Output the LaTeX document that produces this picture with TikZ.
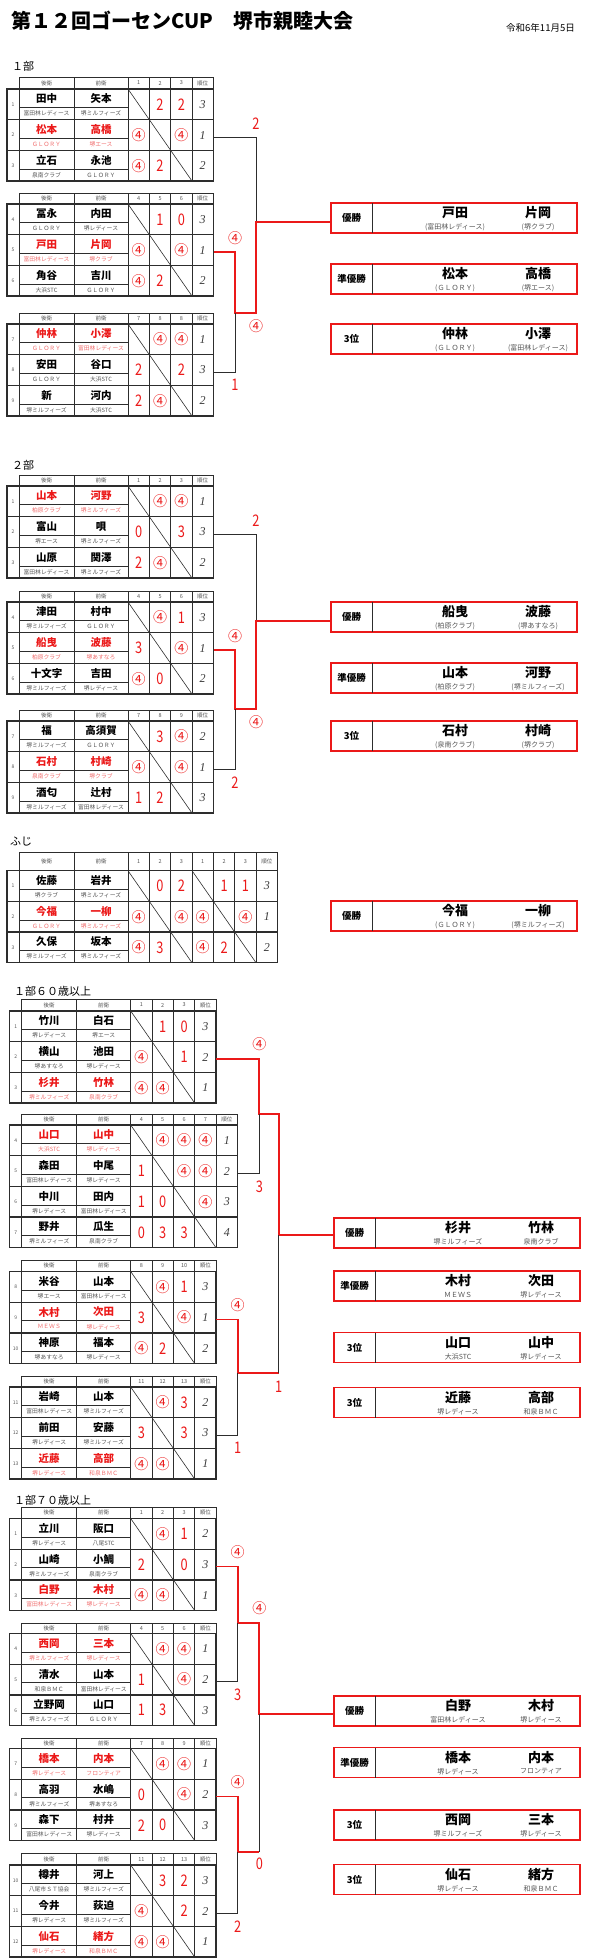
\documentclass[tikz,border=0pt]{standalone}
\usepackage{fontspec}
\setmainfont{Noto Sans CJK JP}
\newfontfamily\jpfont{Noto Sans CJK JP}
\newfontfamily\scorefont[FakeStretch=0.8]{Noto Sans CJK JP}
\newfontfamily\rankfont{Liberation Serif}
\definecolor{winred}{RGB}{235,25,25}
\definecolor{teamred}{RGB}{240,110,110}
\definecolor{teamgray}{RGB}{85,85,85}
\definecolor{rulegray}{RGB}{45,45,45}
\definecolor{rankgray}{RGB}{60,60,60}

% circled four (won game)
\newcommand{\won}{{\jpfont\fontsize{14}{14}\selectfont ④}}

\def\rowht{30.7}
\def\tabx{0}
\def\taby{0}
\def\ncols{3}

% header row: x0, ytop, column labels, height
\newcommand{\tablehead}[4]{%
  \xdef\tabx{#1}%
  \pgfmathsetmacro\yb{#2+#4}%
  \pgfmathsetmacro\yc{#2+#4/2}%
  \draw[colrule] (#1,#2) rectangle (#1+55,\yb) (#1+55,#2) rectangle (#1+109,\yb);
  \node[hdr] at (#1+27.5,\yc) {後衛};
  \node[hdr] at (#1+82,\yc) {前衛};
  \foreach \lab [count=\cc] in {#3} {
    \draw[colrule] (#1+109+21.35*\cc-21.35,#2) rectangle (#1+109+21.35*\cc,\yb);
    \node[hdr] at (#1+109+21.35*\cc-10.675,\yc) {\lab};
    \xdef\ncols{\cc}}
  \draw[colrule] (#1+109+21.35*\ncols,#2) rectangle (#1+130.35+21.35*\ncols,\yb);
  \node[hdr] at (#1+119.675+21.35*\ncols,\yc) {順位};
  \xdef\taby{\yb}%
}

% one pair: name, no., back, front, team1, team2, style suffix, scores, rank
\newcommand{\playerrow}[9]{%
  \pgfmathsetmacro\yb{\taby+\rowht}%
  \pgfmathsetmacro\ym{\taby+18.5}%
  \pgfmathsetmacro\yc{\taby+\rowht/2}%
  \pgfmathsetmacro\xs{\tabx+109}%
  \pgfmathsetmacro\xe{\xs+21.35*(\ncols+1)}%
  \draw[colrule] (\tabx,\taby) -- (\tabx,\yb) (\tabx+55,\taby) -- (\tabx+55,\yb) (\tabx,\ym) -- (\xs,\ym);
  \foreach \ii in {0,...,\ncols} {\draw[colrule] (\xs+21.35*\ii,\taby) -- (\xs+21.35*\ii,\yb);}
  \draw[rowrule] (\tabx-12,\taby) rectangle (\xe,\yb);
  \node[rnum] at (\tabx-6,\yc) {#2};
  \node[pname#7] at (\tabx+27.5,\taby+9.8) {#3};
  \node[pname#7] at (\tabx+82,\taby+9.8) {#4};
  \node[team#7] at (\tabx+27.5,\taby+24.6) {#5};
  \node[team#7] at (\tabx+82,\taby+24.6) {#6};
  \foreach \s [count=\cc] in {#8} {\node[score] at (\xs+21.35*\cc-10.675,\yc) {\s};}
  \node[rank] (#1) at (\xe-10.675,\yc) {#9};
  \xdef\taby{\yb}%
}

% diagonal through the own-match cells: first column, rows
\newcommand{\tablediag}[2]{%
  \draw[colrule] (\tabx+109+21.35*#1-21.35,\taby-\rowht*#2) -- (\tabx+109+21.35*#1-21.35+21.35*#2,\taby);
}

% result box: name, x0, ytop, label, name1, name2, team1, team2
\newcommand{\resultbox}[8]{%
  \node[resbox] (#1) at (#2+123,#3+15) {};
  \draw[colrule] (#2+41,#3) -- (#2+41,#3+30);
  \node[reslab] at (#2+20.5,#3+15) {#4};
  \node[resname] at (#2+124,#3+10) {#5};
  \node[resname] at (#2+207,#3+10) {#6};
  \node[resteam] at (#2+124,#3+24) {#7};
  \node[resteam] at (#2+207,#3+24) {#8};
}

\begin{document}
\begin{tikzpicture}[
    x=1pt, y=-1pt,
    hdr/.style={font=\fontsize{5.5}{6}\selectfont, text=teamgray, inner sep=0pt},
    rnum/.style={font=\fontsize{5}{5}\selectfont, text=teamgray, inner sep=0pt},
    pname/.style={font=\bfseries\fontsize{10.5}{11}\selectfont, inner sep=0pt},
    pnamewin/.style={pname, text=winred},
    team/.style={font=\fontsize{5.8}{6}\selectfont, text=teamgray, inner sep=0pt},
    teamwin/.style={team, text=teamred},
    score/.style={font=\scorefont\fontsize{16}{16}\selectfont, text=winred, inner sep=0pt},
    bscore/.style={score},
    rank/.style={font=\rankfont\itshape\fontsize{12}{12}\selectfont, text=rankgray,
      inner sep=0pt, minimum width=21.35pt, minimum height=30pt},
    rowrule/.style={draw=rulegray, line width=1.3pt},
    colrule/.style={draw=rulegray, line width=0.6pt},
    loseline/.style={draw=rulegray, line width=1pt},
    winline/.style={draw=winred, line width=1.8pt},
    resbox/.style={draw=winred, line width=1.8pt, minimum width=246pt,
      minimum height=30pt, inner sep=0pt},
    reslab/.style={font=\bfseries\fontsize{9.5}{10}\selectfont, inner sep=0pt},
    resname/.style={font=\bfseries\fontsize{13}{13}\selectfont, inner sep=0pt},
    resteam/.style={font=\fontsize{7}{7}\selectfont, text=teamgray, inner sep=0pt},
    section/.style={font=\fontsize{11}{11}\selectfont, anchor=west, inner sep=0pt}
  ]
  \useasboundingbox (0,0) rectangle (590,1960);

  \node[font=\bfseries\fontsize{20}{20}\selectfont, anchor=west, inner sep=0pt] (title) at (11,21) {第１２回ゴーセンCUP　堺市親睦大会};
  \node[font=\fontsize{9.5}{10}\selectfont, anchor=east, inner sep=0pt] (date) at (575,28) {令和6年11月5日};

  % 1部
  \node[section] (first) at (12,66) {１部};
  \tablehead{19}{77}{1,2,3}{12}
  \playerrow{first1}{1}{田中}{矢本}{富田林レディース}{堺ミルフィーズ}{}{{},2,2}{3}
  \playerrow{first2}{2}{松本}{高橋}{ＧＬＯＲＹ}{堺エース}{win}{\won,{},\won}{1}
  \playerrow{first3}{3}{立石}{永池}{泉南クラブ}{ＧＬＯＲＹ}{}{\won,2,{}}{2}
  \tablediag{1}{3}
  \tablehead{19}{193}{4,5,6}{11}
  \playerrow{first4}{4}{冨永}{内田}{ＧＬＯＲＹ}{堺レディース}{}{{},1,0}{3}
  \playerrow{first5}{5}{戸田}{片岡}{富田林レディース}{堺クラブ}{win}{\won,{},\won}{1}
  \playerrow{first6}{6}{角谷}{吉川}{大浜STC}{ＧＬＯＲＹ}{}{\won,2,{}}{2}
  \tablediag{1}{3}
  \tablehead{19}{313}{7,8,8}{11}
  \playerrow{first7}{7}{仲林}{小澤}{ＧＬＯＲＹ}{富田林レディース}{win}{{},\won,\won}{1}
  \playerrow{first8}{8}{安田}{谷口}{ＧＬＯＲＹ}{大浜STC}{}{2,{},2}{3}
  \playerrow{first9}{9}{新}{河内}{堺ミルフィーズ}{大浜STC}{}{2,\won,{}}{2}
  \tablediag{1}{3}

  \resultbox{firstwin}{331}{203}{優勝}{戸田}{片岡}{(富田林レディース)}{(堺クラブ)}
  \resultbox{firstrun}{331}{264}{準優勝}{松本}{高橋}{(ＧＬＯＲＹ)}{(堺エース)}
  \resultbox{firstthird}{331}{324}{3位}{仲林}{小澤}{(ＧＬＯＲＹ)}{(富田林レディース)}

  \coordinate (firstsemi) at (235,312.7);
  \coordinate (firstfin) at (256,221.7);
  \draw[loseline] ([yshift=-2pt]first2.east) -| node[bscore,above=7pt]{2} (firstfin);
  \draw[winline] ([yshift=-2pt]first5.east) -| node[bscore,above=6pt]{\won} (firstsemi)
    -| node[bscore,below=6pt]{\won} (firstfin) -- (firstfin -| firstwin.west);
  \draw[loseline] ([yshift=-2pt]first8.east) -| node[bscore,below=7pt]{1} (firstsemi);

  % 2部
  \node[section] (second) at (12,465) {２部};
  \tablehead{19}{475}{1,2,3}{11}
  \playerrow{second1}{1}{山本}{河野}{柏原クラブ}{堺ミルフィーズ}{win}{{},\won,\won}{1}
  \playerrow{second2}{2}{富山}{唄}{堺エース}{堺ミルフィーズ}{}{0,{},3}{3}
  \playerrow{second3}{3}{山原}{関澤}{富田林レディース}{堺ミルフィーズ}{}{2,\won,{}}{2}
  \tablediag{1}{3}
  \tablehead{19}{591}{4,5,6}{11}
  \playerrow{second4}{4}{津田}{村中}{堺ミルフィーズ}{ＧＬＯＲＹ}{}{{},\won,1}{3}
  \playerrow{second5}{5}{船曳}{波藤}{柏原クラブ}{堺あすなろ}{win}{3,{},\won}{1}
  \playerrow{second6}{6}{十文字}{吉田}{堺ミルフィーズ}{堺レディース}{}{\won,0,{}}{2}
  \tablediag{1}{3}
  \tablehead{19}{710}{7,8,9}{11}
  \playerrow{second7}{7}{福}{高須賀}{堺ミルフィーズ}{ＧＬＯＲＹ}{}{{},3,\won}{2}
  \playerrow{second8}{8}{石村}{村崎}{泉南クラブ}{堺クラブ}{win}{\won,{},\won}{1}
  \playerrow{second9}{9}{酒匂}{辻村}{堺ミルフィーズ}{富田林レディース}{}{1,2,{}}{3}
  \tablediag{1}{3}

  \resultbox{secondwin}{331}{602}{優勝}{船曳}{波藤}{(柏原クラブ)}{(堺あすなろ)}
  \resultbox{secondrun}{331}{663}{準優勝}{山本}{河野}{(柏原クラブ)}{(堺ミルフィーズ)}
  \resultbox{secondthird}{331}{721}{3位}{石村}{村崎}{(泉南クラブ)}{(堺クラブ)}

  \coordinate (secondsemi) at (235,709);
  \coordinate (secondfin) at (256,620.7);
  \draw[loseline] ([yshift=-2pt]second2.east) -| node[bscore,above=7pt]{2} (secondfin);
  \draw[winline] ([yshift=-2pt]second5.east) -| node[bscore,above=6pt]{\won} (secondsemi)
    -| node[bscore,below=6pt]{\won} (secondfin) -- (secondfin -| secondwin.west);
  \draw[loseline] ([yshift=-2pt]second8.east) -| node[bscore,below=7pt]{2} (secondsemi);

  % ふじ
  \node[section] (fuji) at (10,842) {ふじ};
  \tablehead{19}{852.7}{1,2,3,1,2,3}{18}
  \playerrow{fuji1}{1}{佐藤}{岩井}{堺クラブ}{堺ミルフィーズ}{}{{},0,2,{},1,1}{3}
  \playerrow{fuji2}{2}{今福}{一柳}{ＧＬＯＲＹ}{堺ミルフィーズ}{win}{\won,{},\won,\won,{},\won}{1}
  \playerrow{fuji3}{3}{久保}{坂本}{堺ミルフィーズ}{堺ミルフィーズ}{}{\won,3,{},\won,2,{}}{2}
  \tablediag{1}{3}
  \tablediag{4}{3}
  \resultbox{fujiwin}{331}{901}{優勝}{今福}{一柳}{(ＧＬＯＲＹ)}{(堺ミルフィーズ)}

  % 1部60歳以上
  \node[section] (sixty) at (14,991) {１部６０歳以上};
  \tablehead{21.7}{999}{1,2,3}{12}
  \playerrow{sixty1}{1}{竹川}{白石}{堺レディース}{堺エース}{}{{},1,0}{3}
  \playerrow{sixty2}{2}{横山}{池田}{堺あすなろ}{堺レディース}{}{\won,{},1}{2}
  \playerrow{sixty3}{3}{杉井}{竹林}{堺ミルフィーズ}{泉南クラブ}{win}{\won,\won,{}}{1}
  \tablediag{1}{3}
  \tablehead{21.7}{1114}{4,5,6,7}{11}
  \playerrow{sixty4}{4}{山口}{山中}{大浜STC}{堺レディース}{win}{{},\won,\won,\won}{1}
  \playerrow{sixty5}{5}{森田}{中尾}{富田林レディース}{堺レディース}{}{1,{},\won,\won}{2}
  \playerrow{sixty6}{6}{中川}{田内}{堺レディース}{富田林レディース}{}{1,0,{},\won}{3}
  \playerrow{sixty7}{7}{野井}{瓜生}{堺ミルフィーズ}{泉南クラブ}{}{0,3,3,{}}{4}
  \tablediag{1}{4}
  \tablehead{21.7}{1260}{8,9,10}{11.5}
  \playerrow{sixty8}{8}{米谷}{山本}{堺エース}{富田林レディース}{}{{},\won,1}{3}
  \playerrow{sixty9}{9}{木村}{次田}{ＭＥＷＳ}{堺レディース}{win}{3,{},\won}{1}
  \playerrow{sixty10}{10}{神原}{福本}{堺あすなろ}{堺レディース}{}{\won,2,{}}{2}
  \tablediag{1}{3}
  \tablehead{21.7}{1376}{11,12,13}{11}
  \playerrow{sixty11}{11}{岩崎}{山本}{富田林レディース}{堺ミルフィーズ}{}{{},\won,3}{2}
  \playerrow{sixty12}{12}{前田}{安藤}{堺レディース}{堺ミルフィーズ}{}{3,{},3}{3}
  \playerrow{sixty13}{13}{近藤}{高部}{堺レディース}{和泉ＢＭＣ}{win}{\won,\won,{}}{1}
  \tablediag{1}{3}

  \resultbox{sixtywin}{334}{1218}{優勝}{杉井}{竹林}{堺ミルフィーズ}{泉南クラブ}
  \resultbox{sixtyrun}{334}{1271}{準優勝}{木村}{次田}{ＭＥＷＳ}{堺レディース}
  \resultbox{sixtythirdA}{334}{1332.5}{3位}{山口}{山中}{大浜STC}{堺レディース}
  \resultbox{sixtythirdB}{334}{1387.5}{3位}{近藤}{高部}{堺レディース}{和泉ＢＭＣ}

  \coordinate (sixtysemiA) at (259.3,1114.3);
  \coordinate (sixtysemiB) at (237.7,1373.3);
  \coordinate (sixtyfin) at (278.7,1235);
  \draw[winline] ([yshift=-2pt]sixty2.east) -| node[bscore,above=7pt]{\won} (sixtysemiA)
    -| (sixtyfin) -- (sixtyfin -| sixtywin.west);
  \draw[loseline] ([yshift=-2pt]sixty5.east) -| node[bscore,below=7pt]{3} (sixtysemiA);
  \draw[winline] ([yshift=-2pt]sixty9.east) -| node[bscore,above=7pt]{\won} (sixtysemiB)
    -- (sixtysemiB -| sixtyfin);
  \draw[loseline] ([yshift=-2pt]sixty12.east) -| node[bscore,below=7pt]{1} (sixtysemiB);
  \draw[loseline] (sixtysemiB -| sixtyfin) -- node[bscore,pos=0,below=7pt]{1} (sixtyfin);

  % 1部70歳以上
  \node[section] (seventy) at (14,1500) {１部７０歳以上};
  \tablehead{21.7}{1507}{1,2,3}{11.5}
  \playerrow{seventy1}{1}{立川}{阪口}{堺レディース}{八尾STC}{}{{},\won,1}{2}
  \playerrow{seventy2}{2}{山崎}{小鯛}{堺ミルフィーズ}{泉南クラブ}{}{2,{},0}{3}
  \playerrow{seventy3}{3}{白野}{木村}{富田林レディース}{堺レディース}{win}{\won,\won,{}}{1}
  \tablediag{1}{3}
  \tablehead{21.7}{1623}{4,5,6}{10.5}
  \playerrow{seventy4}{4}{西岡}{三本}{堺ミルフィーズ}{堺レディース}{win}{{},\won,\won}{1}
  \playerrow{seventy5}{5}{清水}{山本}{和泉ＢＭＣ}{富田林レディース}{}{1,{},\won}{2}
  \playerrow{seventy6}{6}{立野岡}{山口}{堺ミルフィーズ}{ＧＬＯＲＹ}{}{1,3,{}}{3}
  \tablediag{1}{3}
  \tablehead{21.7}{1738}{7,8,9}{10.5}
  \playerrow{seventy7}{7}{橋本}{内本}{堺レディース}{フロンティア}{win}{{},\won,\won}{1}
  \playerrow{seventy8}{8}{高羽}{水嶋}{堺ミルフィーズ}{堺あすなろ}{}{0,{},\won}{2}
  \playerrow{seventy9}{9}{森下}{村井}{富田林レディース}{堺レディース}{}{2,0,{}}{3}
  \tablediag{1}{3}
  \tablehead{21.7}{1853.5}{11,12,13}{11.5}
  \playerrow{seventy10}{10}{樽井}{河上}{八尾市ＳＴ協会}{堺ミルフィーズ}{}{{},3,2}{3}
  \playerrow{seventy11}{11}{今井}{荻迫}{堺レディース}{堺ミルフィーズ}{}{\won,{},2}{2}
  \playerrow{seventy12}{12}{仙石}{緒方}{堺レディース}{和泉ＢＭＣ}{win}{\won,\won,{}}{1}
  \tablediag{1}{3}

  \resultbox{seventywin}{334}{1696}{優勝}{白野}{木村}{富田林レディース}{堺レディース}
  \resultbox{seventyrun}{334}{1747.5}{準優勝}{橋本}{内本}{堺レディース}{フロンティア}
  \resultbox{seventythirdA}{334}{1810}{3位}{西岡}{三本}{堺ミルフィーズ}{堺レディース}
  \resultbox{seventythirdB}{334}{1864.5}{3位}{仙石}{緒方}{堺レディース}{和泉ＢＭＣ}

  \coordinate (seventysemiA) at (237.7,1622.7);
  \coordinate (seventysemiB) at (237.7,1851.7);
  \coordinate (seventyfin) at (259.3,1714);
  \draw[winline] ([yshift=-2pt]seventy2.east) -| node[bscore,above=7pt]{\won} (seventysemiA)
    -| node[bscore,above=7pt]{\won} (seventyfin) -- (seventyfin -| seventywin.west);
  \draw[loseline] ([yshift=-2pt]seventy5.east) -| node[bscore,below=7pt]{3} (seventysemiA);
  \draw[winline] ([yshift=-2pt]seventy8.east) -| node[bscore,above=7pt]{\won} (seventysemiB)
    -- (seventysemiB -| seventyfin);
  \draw[loseline] ([yshift=-2pt]seventy11.east) -| node[bscore,below=7pt]{2} (seventysemiB);
  \draw[loseline] (seventysemiB -| seventyfin) -- node[bscore,pos=0,below=6pt]{0} (seventyfin);
\end{tikzpicture}
\end{document}
